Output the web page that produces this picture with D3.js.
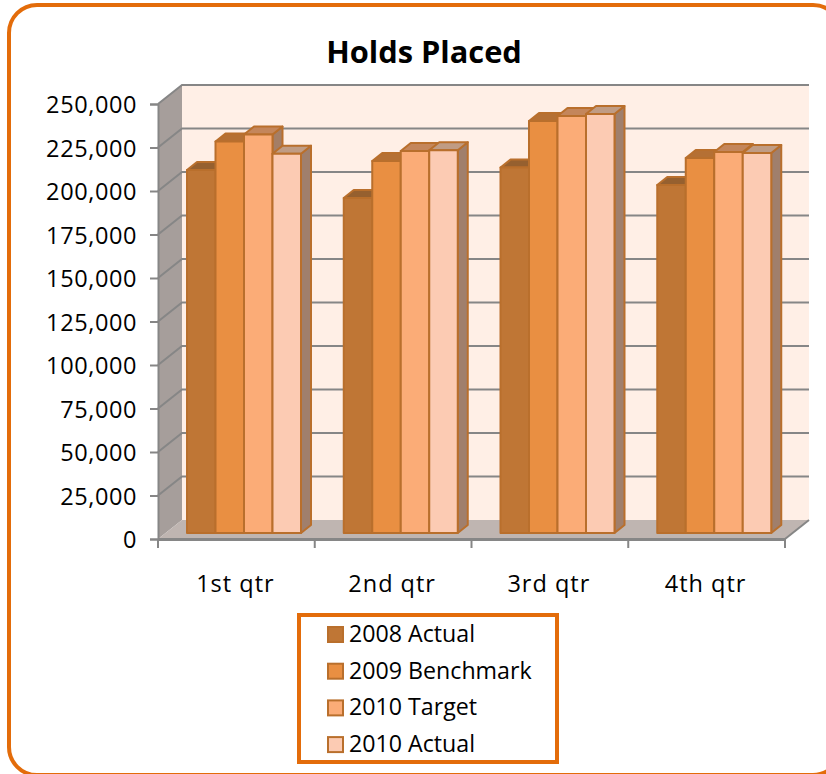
<!DOCTYPE html>
<html>
<head>
<meta charset="utf-8">
<script src="https://cdn.jsdelivr.net/npm/d3@7"></script>
<style>
  html, body { margin: 0; padding: 0; background: #fff; overflow: hidden; }
  svg { display: block; }
  text { font-family: "Open Sans", "Noto Sans", sans-serif; fill: #000; }
</style>
</head>
<body>
<div id="chart"></div>
<script>
const quarters = ['1st qtr', '2nd qtr', '3rd qtr', '4th qtr'];
const seriesNames = ['2008 Actual', '2009 Benchmark', '2010 Target', '2010 Actual'];
const actual2008 = [208600, 192500, 210000, 200000];
const benchmark2009 = [225000, 213800, 236800, 215500];
const target2010 = [229000, 219500, 239700, 219000];
const actual2010 = [218000, 220000, 240800, 218400];
const seriesValues = [actual2008, benchmark2009, target2010, actual2010];
const tickValues = d3.range(0, 250001, 25000);

const frontFill = ['#BF7635', '#E98F42', '#FBAC77', '#FCCBB3'];
const topFill = ['#96602F', '#B57034', '#C4865B', '#C09C84'];
const sideFill = ['#96602F', '#A57048', '#A47E66', '#A07F6C'];
const edge = '#B96F2C';
const grid = '#868686';

const width = 826, height = 774;
const svg = d3.select('#chart').append('svg')
  .attr('width', width)
  .attr('height', height);

// outer frame, runs off the right and bottom of the picture
svg.append('rect')
  .attr('x', 9).attr('y', 5)
  .attr('width', 832).attr('height', 770)
  .attr('rx', 28)
  .attr('fill', '#fff')
  .attr('stroke', '#E36C0A')
  .attr('stroke-width', 4);

svg.append('text')
  .attr('x', 424).attr('y', 63)
  .attr('text-anchor', 'middle')
  .style('font-size', '30.8px')
  .style('font-weight', 700)
  .text('Holds Placed');

// axes live on the front plane, the wall is pushed back by the depth
const depth = { x: 24, y: -19 };
const x = d3.scaleBand().domain(quarters).range([158, 785]);
const y = d3.scaleLinear().domain([0, 250000]).range([539, 104]);
const series = d3.scaleBand().domain(seriesNames).range([29, 143]);
const barDepth = { x: 10, y: -8 };
const barOffset = { y: -6 };

const pts = a => a.map(p => p.join(',')).join(' ');

// back wall, floor, side wall
svg.append('polygon')
  .attr('points', pts([
    [158 + depth.x, y(250000) + depth.y],
    [785 + depth.x, y(250000) + depth.y],
    [785 + depth.x, y(0) + depth.y],
    [158 + depth.x, y(0) + depth.y]]))
  .attr('fill', '#FFEFE6');
svg.append('polygon')
  .attr('points', pts([
    [158, y(250000)],
    [158 + depth.x, y(250000) + depth.y],
    [158 + depth.x, y(0) + depth.y],
    [158, y(0)]]))
  .attr('fill', '#A69E9B');
svg.append('polygon')
  .attr('points', pts([
    [158, y(0)],
    [158 + depth.x, y(0) + depth.y],
    [785 + depth.x, y(0) + depth.y],
    [785, y(0)]]))
  .attr('fill', '#BFB5B1');

// gridlines wrap around side wall and back wall
svg.append('g').selectAll('polyline')
  .data(tickValues.slice(1))
  .join('polyline')
  .attr('points', d => pts([
    [158, y(d)],
    [158 + depth.x, y(d) + depth.y],
    [785 + depth.x, y(d) + depth.y]]))
  .attr('fill', 'none')
  .attr('stroke', grid)
  .attr('stroke-width', 2);

// bars
quarters.forEach((q, qi) => {
  seriesNames.forEach((s, si) => {
    const v = seriesValues[si][qi];
    const x0 = x(q) + series(s);
    const x1 = x0 + series.bandwidth();
    const y0 = y(0) + barOffset.y;
    const y1 = y(v) + barOffset.y;
    const g = svg.append('g')
      .attr('stroke', edge)
      .attr('stroke-width', 2)
      .attr('stroke-linejoin', 'round');
    g.append('polygon')
      .attr('points', pts([
        [x1, y1], [x1 + barDepth.x, y1 + barDepth.y],
        [x1 + barDepth.x, y0 + barDepth.y], [x1, y0]]))
      .attr('fill', sideFill[si]);
    g.append('polygon')
      .attr('points', pts([
        [x0, y1], [x0 + barDepth.x, y1 + barDepth.y],
        [x1 + barDepth.x, y1 + barDepth.y], [x1, y1]]))
      .attr('fill', topFill[si]);
    g.append('rect')
      .attr('x', x0).attr('y', y1)
      .attr('width', series.bandwidth()).attr('height', y0 - y1)
      .attr('fill', frontFill[si]);
  });
});

// y axis
const yAxis = svg.append('g')
  .attr('transform', 'translate(158,0)')
  .call(d3.axisLeft(y).tickValues(tickValues).tickFormat(d3.format(',')).tickSize(8).tickPadding(13));
yAxis.select('.domain').attr('stroke', grid).attr('stroke-width', 2);
yAxis.selectAll('.tick line').attr('stroke', grid).attr('stroke-width', 2);
yAxis.selectAll('text')
  .attr('font-family', null)
  .attr('dy', '.38em')
  .style('font-size', '23.5px')
  .style('letter-spacing', '0.6px');

// x axis
const xAxis = svg.append('g')
  .attr('transform', 'translate(0,539)')
  .call(d3.axisBottom(x).tickSize(0).tickPadding(36));
xAxis.select('.domain').attr('stroke', grid).attr('stroke-width', 3);
xAxis.selectAll('text')
  .attr('font-family', null)
  .attr('dx', '-1')
  .style('font-size', '23.5px')
  .style('letter-spacing', '1px');
xAxis.selectAll('.sep')
  .data(d3.range(0, quarters.length + 1))
  .join('line')
  .attr('class', 'sep')
  .attr('x1', i => 158 + i * x.step())
  .attr('x2', i => 158 + i * x.step())
  .attr('y1', 0).attr('y2', 9)
  .attr('stroke', grid)
  .attr('stroke-width', 2);
// right end of the floor
svg.append('line')
  .attr('x1', 785).attr('y1', y(0))
  .attr('x2', 785 + depth.x).attr('y2', y(0) + depth.y)
  .attr('stroke', grid).attr('stroke-width', 2);

// legend
svg.append('rect')
  .attr('x', 299).attr('y', 615)
  .attr('width', 258).attr('height', 147)
  .attr('fill', '#fff')
  .attr('stroke', '#E36C0A')
  .attr('stroke-width', 4);
const legend = svg.append('g').selectAll('g')
  .data(seriesNames)
  .join('g')
  .attr('transform', (d, i) => `translate(328,${634 + i * 36.7})`);
legend.append('rect')
  .attr('x', 0).attr('y', -7)
  .attr('width', 15).attr('height', 15)
  .attr('fill', (d, i) => frontFill[i])
  .attr('stroke', edge)
  .attr('stroke-width', 2);
legend.append('text')
  .attr('x', 21).attr('y', 8)
  .style('font-size', '23.2px')
  .text(d => d);
</script>
</body>
</html>
